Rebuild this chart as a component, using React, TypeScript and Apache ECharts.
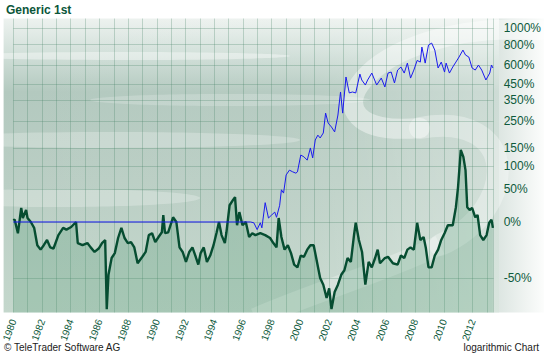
import React, { useEffect, useRef } from 'react';
import * as echarts from 'echarts';

// [decimal year, % change]
const genericData: [number, number][] = [
  [1980.0, 2], [1980.09, 3], [1980.32, -13], [1980.55, 19], [1980.66, 5], [1980.89, 16], [1980.99, 5], [1981.22, 0],
  [1981.45, -7], [1981.67, -25], [1981.9, -29], [1982.12, -25], [1982.35, -20], [1982.57, -27], [1982.8, -28],
  [1983.14, -15], [1983.47, -7], [1983.7, -9], [1984.03, -6], [1984.37, 0], [1984.49, -23], [1984.82, -25],
  [1985.16, -23], [1985.39, -27], [1985.66, -31], [1985.95, -28], [1986.18, -23], [1986.4, -20], [1986.51, -66],
  [1986.63, -48], [1986.85, -36], [1987.07, -32], [1987.3, -18], [1987.53, -7], [1987.75, -18], [1987.98, -23],
  [1988.2, -22], [1988.43, -27], [1988.66, -40], [1988.99, -35], [1989.22, -31], [1989.44, -15], [1989.67, -13],
  [1989.89, -22], [1990.12, -17], [1990.35, -12], [1990.45, 9], [1990.57, -13], [1990.79, -12], [1991.13, 6],
  [1991.36, 0], [1991.58, -27], [1991.8, -31], [1992.03, -39], [1992.26, -31], [1992.48, -27], [1992.71, -35],
  [1992.89, -41], [1993.05, -32], [1993.27, -27], [1993.49, -39], [1993.72, -34], [1993.95, -25], [1994.17, -12],
  [1994.33, 0], [1994.51, -15], [1994.74, -23], [1994.85, -12], [1995.07, 23], [1995.3, 31], [1995.45, 36],
  [1995.59, -4], [1995.75, 13], [1995.97, -4], [1996.2, 0], [1996.43, -17], [1996.65, -13], [1996.87, -15],
  [1997.21, -13], [1997.55, -15], [1997.89, -18], [1998.12, -23], [1998.34, -27], [1998.49, 5], [1998.68, -17],
  [1998.9, -29], [1999.13, -25], [1999.35, -32], [1999.57, -41], [1999.8, -43], [2000.03, -34], [2000.25, -35],
  [2000.48, -29], [2000.7, -25], [2000.93, -25], [2001.16, -39], [2001.38, -50], [2001.6, -54], [2001.83, -61],
  [2002.01, -56], [2002.17, -66], [2002.39, -58], [2002.62, -54], [2002.85, -48], [2003.07, -45], [2003.29, -36],
  [2003.52, -39], [2003.74, -15], [2003.86, -1], [2004.08, -20], [2004.3, -31], [2004.53, -54], [2004.76, -39],
  [2004.98, -43], [2005.21, -36], [2005.39, -29], [2005.55, -40], [2005.89, -36], [2006.11, -35], [2006.45, -40],
  [2006.78, -41], [2007.01, -34], [2007.24, -36], [2007.46, -29], [2007.68, -27], [2007.91, -29], [2008.14, -1],
  [2008.36, -20], [2008.59, -17], [2008.74, -27], [2008.93, -43], [2009.15, -43], [2009.37, -34], [2009.6, -29],
  [2009.82, -20], [2010.05, -13], [2010.28, -4], [2010.62, -4], [2010.84, 20], [2010.99, 54], [2011.18, 144],
  [2011.36, 124], [2011.51, 90], [2011.63, 20], [2011.8, 16], [2011.97, 19], [2012.19, 6], [2012.35, 9],
  [2012.53, -15], [2012.75, -20], [2012.98, -15], [2013.16, -1], [2013.32, 3], [2013.42, -7],
];

const compareData: [number, number][] = [
  [1980.0, 0], [1996.2, 0], [1996.53, 0], [1996.76, -1], [1996.99, -9], [1997.21, -1], [1997.32, -7], [1997.55, 27],
  [1997.78, 5], [1998.0, 9], [1998.22, 13], [1998.34, 6], [1998.56, 23], [1998.68, 49], [1998.83, 43], [1999.01, 79],
  [1999.24, 90], [1999.47, 86], [1999.69, 83], [1999.8, 86], [2000.03, 129], [2000.25, 124], [2000.48, 115],
  [2000.7, 150], [2000.86, 121], [2001.04, 176], [2001.22, 193], [2001.38, 183], [2001.6, 201], [2001.76, 285],
  [2001.94, 240], [2002.17, 224], [2002.39, 205], [2002.62, 276], [2002.8, 400], [2002.95, 285], [2003.18, 502],
  [2003.41, 394], [2003.63, 400], [2003.86, 394], [2004.15, 524], [2004.28, 480], [2004.53, 445], [2004.69, 480],
  [2004.98, 532], [2005.32, 445], [2005.64, 494], [2005.89, 432], [2006.11, 532], [2006.33, 540], [2006.56, 459],
  [2006.78, 556], [2007.01, 581], [2007.24, 532], [2007.46, 615], [2007.68, 494], [2007.91, 556], [2008.14, 639],
  [2008.36, 624], [2008.47, 772], [2008.7, 615], [2008.93, 794], [2009.15, 816], [2009.37, 740], [2009.6, 573],
  [2009.82, 624], [2010.05, 540], [2010.16, 615], [2010.39, 532], [2010.62, 581], [2010.84, 624], [2011.06, 671],
  [2011.33, 740], [2011.51, 690], [2011.74, 671], [2011.97, 573], [2012.19, 556], [2012.41, 598], [2012.64, 556],
  [2012.93, 480], [2013.2, 532], [2013.32, 598], [2013.42, 573],
];

const yTickPct = [-50, 0, 50, 100, 150, 250, 350, 450, 600, 800, 1000];
const yMinPct = -67.4;
const yMaxPct = 1142;
const xMinYear = 1980;
const xMaxYear = 2013.47;

const toLog = (p: number) => Math.log(1 + p / 100);
const FONT = '"Liberation Sans", Arial, sans-serif';

export default function App() {
  const ref = useRef<HTMLDivElement>(null);
  useEffect(() => {
    document.body.style.margin = '0';
    if (!ref.current) return;
    const chart = echarts.init(ref.current, undefined, { renderer: 'svg' });
    const L = 3.6, T = 18.5, R = 499, B = 312.5;
    const W = R - L, H = B - T;
    const tickVals = yTickPct.map(toLog);
    const gridLine = { color: 'rgba(70,130,100,0.28)', width: 1 };
    chart.setOption({
      animation: false,
      backgroundColor: '#ffffff',
      title: [
        { text: 'Generic 1st', left: 6, top: 4, padding: 0, textStyle: { fontFamily: FONT, fontSize: 12, fontWeight: 'bold', color: '#0b563a' } },
        { text: '© TeleTrader Software AG', left: 4, top: 342, padding: 0, textStyle: { fontFamily: FONT, fontSize: 10, fontWeight: 'normal', color: '#222' } },
        { text: 'logarithmic Chart', right: 5, top: 342, padding: 0, textStyle: { fontFamily: FONT, fontSize: 10, fontWeight: 'normal', color: '#222' } },
      ],
      graphic: [
        {
          type: 'rect', z: -10, silent: true,
          shape: { x: L, y: T, width: W, height: H },
          style: {
            fill: new echarts.graphic.LinearGradient(0, 0, 0, 1, [
              { offset: 0, color: '#edf2ef' },
              { offset: 0.1, color: '#d6e3dd' },
              { offset: 0.25, color: '#b3c9bf' },
              { offset: 0.55, color: '#bacec4' },
              { offset: 1, color: '#c4d7cc' },
            ]),
          },
        },
        {
          type: 'rect', z: -9, silent: true,
          shape: { x: L, y: T, width: W, height: H },
          style: {
            fill: new echarts.graphic.LinearGradient(0, 0, 1, 0, [
              { offset: 0, color: 'rgba(255,255,255,0)' },
              { offset: 0.6, color: 'rgba(255,255,255,0.05)' },
              { offset: 1, color: 'rgba(255,255,255,0.35)' },
            ]),
          },
        },
        {
          type: 'rect', z: -9, silent: true,
          shape: { x: R, y: T, width: 544 - R, height: H },
          style: {
            fill: new echarts.graphic.LinearGradient(0, 0, 1, 0, [
              { offset: 0, color: '#dde6e2' },
              { offset: 1, color: '#fcfdfc' },
            ]),
          },
        },
        { type: 'ellipse', z: -8, silent: true, shape: { cx: 120, cy: 56, rx: 170, ry: 4 }, style: { fill: 'rgba(255,255,255,0.4)' } },
        { type: 'ellipse', z: -8, silent: true, shape: { cx: 230, cy: 100, rx: 140, ry: 6 }, style: { fill: 'rgba(255,255,255,0.2)' } },
        { type: 'ellipse', z: -8, silent: true, shape: { cx: 110, cy: 140, rx: 190, ry: 8 }, style: { fill: 'rgba(255,255,255,0.25)' } },
        { type: 'ellipse', z: -8, silent: true, shape: { cx: 60, cy: 198, rx: 140, ry: 9 }, style: { fill: 'rgba(255,255,255,0.25)' } },
        {
          type: 'bezierCurve', z: -7, silent: true,
          shape: { x1: 540, y1: 30, cpx1: 360, cpy1: 18, cpx2: 290, cpy2: 140, x2: 420, y2: 128 },
          style: { stroke: 'rgba(255,255,255,0.42)', lineWidth: 20, lineCap: 'round', fill: null },
        },
        {
          type: 'bezierCurve', z: -7, silent: true,
          shape: { x1: 420, y1: 128, cpx1: 520, cpy1: 110, cpx2: 520, cpy2: 210, x2: 440, y2: 245 },
          style: { stroke: 'rgba(255,255,255,0.32)', lineWidth: 22, lineCap: 'round', fill: null },
        },
        {
          type: 'bezierCurve', z: -7, silent: true,
          shape: { x1: 440, y1: 245, cpx1: 390, cpy1: 270, cpx2: 320, cpy2: 290, x2: 255, y2: 318 },
          style: { stroke: 'rgba(255,255,255,0.28)', lineWidth: 20, lineCap: 'butt', fill: null },
        },
      ],
      grid: { left: L, top: T, width: W, height: H, containLabel: false },
      xAxis: {
        type: 'value',
        min: xMinYear,
        max: xMaxYear,
        interval: 1,
        axisLine: { show: false },
        axisTick: { show: false },
        splitLine: { show: true, lineStyle: gridLine },
        axisLabel: {
          rotate: 70,
          margin: 7,
          fontFamily: FONT,
          fontSize: 10,
          color: '#0e5a3c',
          showMaxLabel: false,
          formatter: (v: number) => (Number.isInteger(v) && v % 2 === 0 ? String(v) : ''),
        },
      },
      yAxis: {
        type: 'value',
        position: 'right',
        min: toLog(yMinPct),
        max: toLog(yMaxPct),
        axisLine: { show: false },
        axisTick: { show: false, customValues: tickVals },
        splitLine: { show: true, lineStyle: gridLine },
        axisLabel: {
          customValues: tickVals,
          margin: 10,
          fontFamily: FONT,
          fontSize: 12,
          color: '#0e5a3c',
          formatter: (v: number) => Math.round((Math.exp(v) - 1) * 100) + '%',
        },
      },
      series: [
        {
          type: 'line',
          name: 'Generic 1st',
          data: genericData.map(([x, p]) => [x, toLog(p)]),
          showSymbol: false,
          z: 3,
          lineStyle: { color: '#064d31', width: 2.4 },
          areaStyle: { color: 'rgba(70,150,105,0.35)', origin: 'start' },
        },
        {
          type: 'line',
          name: 'Compare',
          data: compareData.map(([x, p]) => [x, toLog(p)]),
          showSymbol: false,
          z: 4,
          lineStyle: { color: '#1a1aee', width: 1 },
        },
      ],
    });
    return () => chart.dispose();
  }, []);
  return <div ref={ref} style={{ width: 544, height: 353 }} />;
}
